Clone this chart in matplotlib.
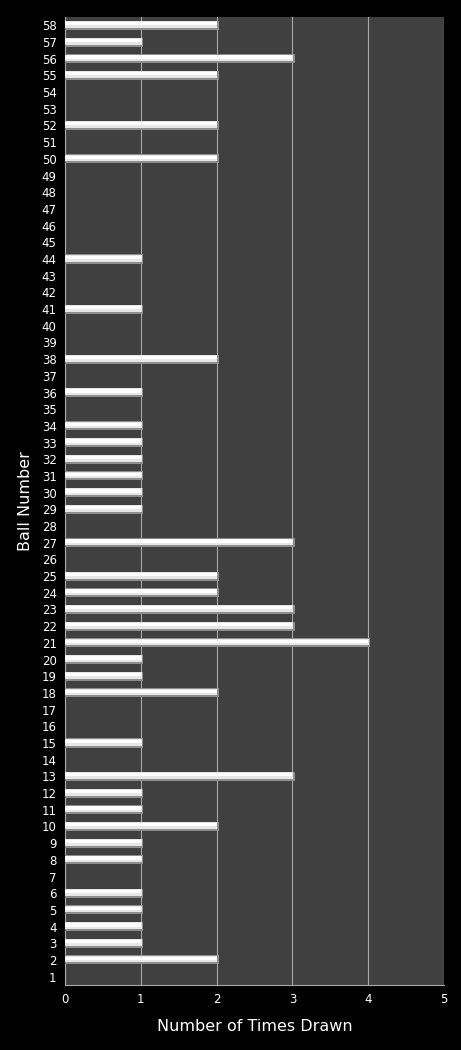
import numpy as np
import matplotlib
matplotlib.use("Agg")
import matplotlib.pyplot as plt

balls = list(range(1, 59))
times_drawn = [0, 2, 1, 1, 1, 1, 0, 1, 1, 2,
               1, 1, 3, 0, 1, 0, 0, 2, 1, 1,
               4, 3, 3, 2, 2, 0, 3, 0, 1, 1,
               1, 1, 1, 1, 0, 1, 0, 2, 0, 0,
               1, 0, 0, 1, 0, 0, 0, 0, 0, 2,
               0, 2, 0, 0, 2, 3, 1, 2]
x_ticks = [0, 1, 2, 3, 4, 5]

fig = plt.figure(figsize=(4.61, 10.5), dpi=100, facecolor="black")
ax = fig.add_axes([65 / 461, 65 / 1050, 379 / 461, 968 / 1050])
ax.set_facecolor("#404040")

y = np.array(balls)
vals = np.array(times_drawn)
mask = vals > 0
# bar body with a darker lower edge to mimic the bevel
ax.barh(y[mask], vals[mask] + 0.03, height=0.54, color="#8e8e8e", zorder=3)
ax.barh(y[mask] + 0.05, vals[mask] + 0.01, height=0.4, color="#e6e6e6", zorder=4)
ax.barh(y[mask] + 0.1, vals[mask], height=0.2, color="#ffffff", zorder=5)

ax.set_xlim(0, 5)
ax.set_ylim(0.5, 58.5)
ax.set_xticks(x_ticks)
ax.set_yticks(balls)
ax.set_yticklabels([str(b) for b in balls])
ax.xaxis.grid(True, color="#a8a8a8", linewidth=0.8, zorder=1)
ax.set_axisbelow(True)
ax.tick_params(axis="both", colors="white", labelsize=8.5, length=0, pad=6)
for s in ["top", "right"]:
    ax.spines[s].set_visible(False)
for s in ["left", "bottom"]:
    ax.spines[s].set_color("#a8a8a8")
    ax.spines[s].set_linewidth(0.8)

ax.set_xlabel("Number of Times Drawn", color="white", fontsize=11.5, labelpad=9)
ax.set_ylabel("Ball Number", color="white", fontsize=11.5, labelpad=6)

fig.savefig("out.png", dpi=100, facecolor="black")
